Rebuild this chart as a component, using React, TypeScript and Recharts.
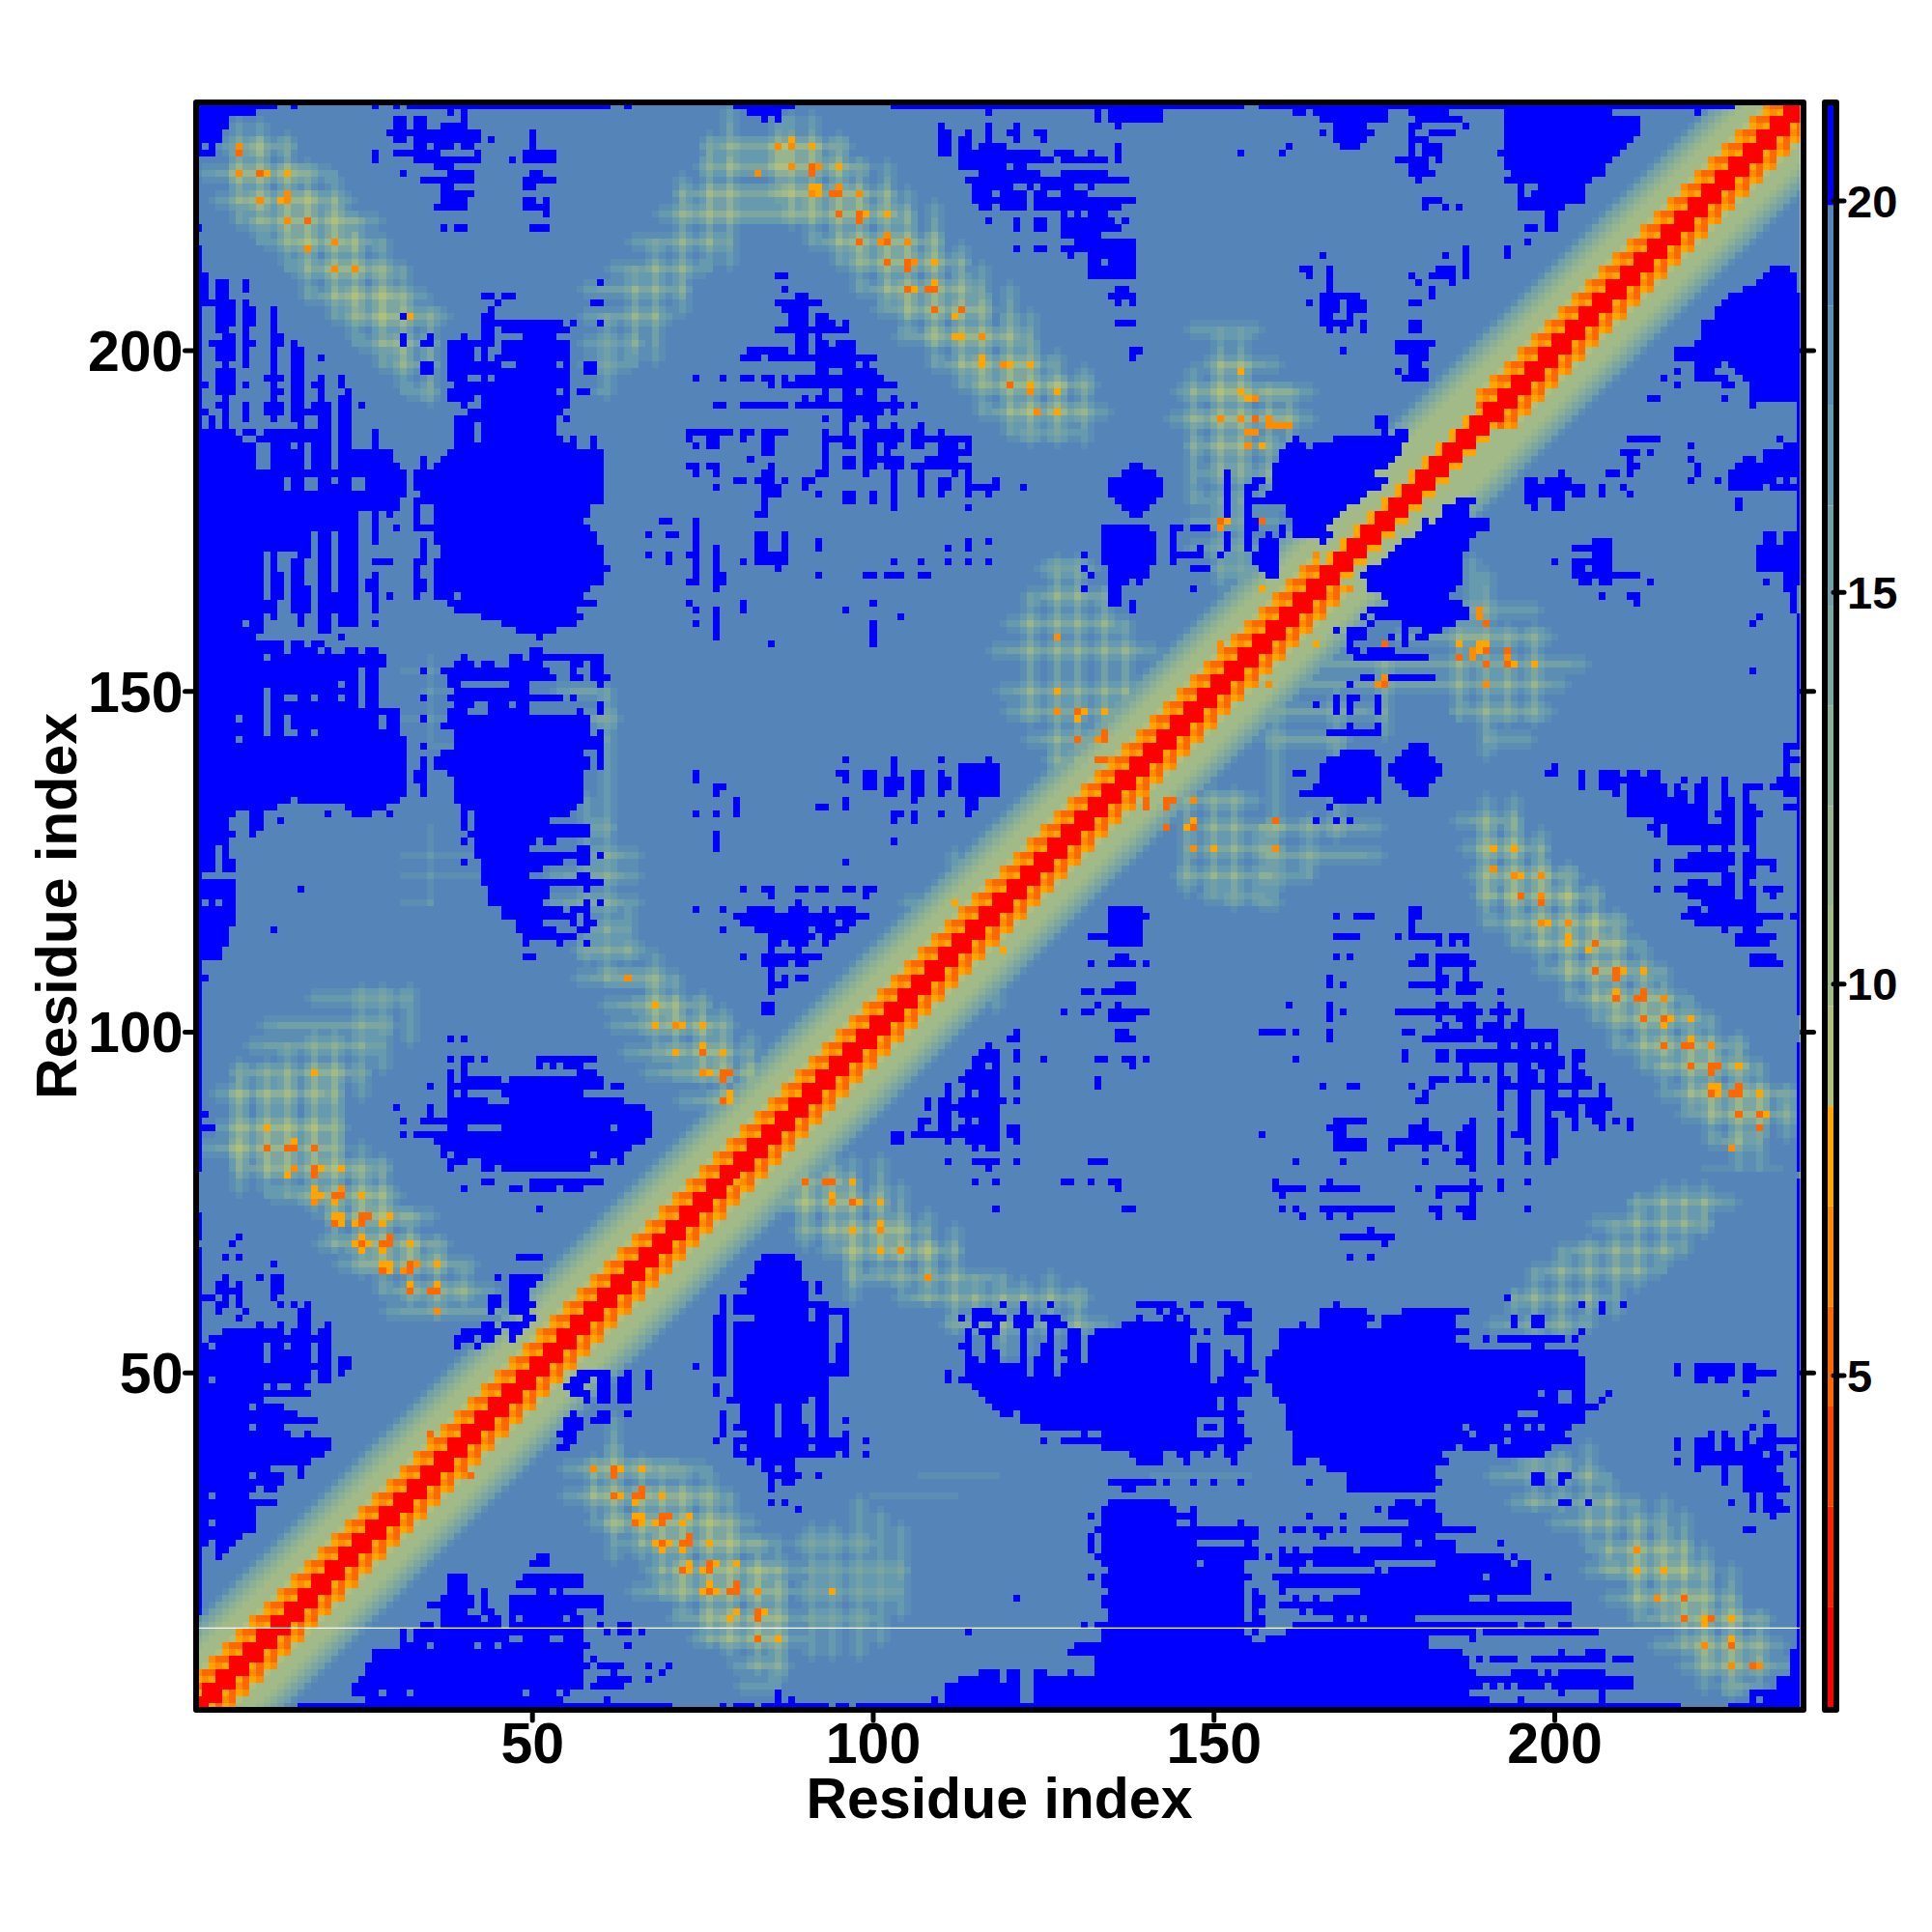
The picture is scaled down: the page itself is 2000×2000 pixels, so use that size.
import React from 'react'
import { ScatterChart, Scatter, XAxis, YAxis, BarChart, Bar } from 'recharts'

const RESIDUES = 236
const axisTicks = [50, 100, 150, 200]
const colorTicks = [5, 10, 15, 20]
const whiteLine = [{ x: 1, y: 12.57 }, { x: 236, y: 12.57 }]

// red -> orange -> sage -> steel -> blue, one colour per colour bar step
const levelColors = [
  '#FF0000', '#FF2200', '#FF4500', '#FF6800', '#FF8C00', '#FFA500', '#B0C07C', '#A2BA88',
  '#98B68E', '#8BAF97', '#7EA6A0', '#71A0A8', '#659AAF', '#5C8EB4', '#5585B8', '#0000FF',
]
const colorSteps = [2.05, 1.278, 1.278, 1.278, 1.278, 1.278, 1.278, 1.278, 1.278, 1.278, 1.278, 1.278, 1.278, 1.278, 1.278, 1.278]

// level of the band around the diagonal, by distance from it, for alternate residues
const diagEven = [0, 0, 0, 4, 3, 6, 7, 7, 7, 8, 9, 10, 11, 13]
const diagOdd = [0, 0, 5, 3, 5, 4, 7, 7, 7, 8, 9, 10, 11, 13]
const narrowEven = [0, 0, 0, 7, 7, 7, 7, 7, 7, 8, 9, 10, 11, 13]
const narrowOdd = [0, 0, 5, 5, 7, 7, 7, 7, 7, 8, 9, 10, 11, 13]
const narrowSpan = [166, 188]

// far contacts, "row:residues"
const blueRows = `
236:1-12 15 27 30 32-61 64 80-88 103-104 105-154 157-226
235:1-9 38 40 82-86 117 133 135-142 162-163 165-175 179-184 193-208 221
234:1-5 30-31 33-34 40 84 86 133 135-141 142 166-175 180-186 193-212
233:1-5 30-31 33-34 37-40 110 117 121 136 168-172 179-180 187 193-212
232:1-4 29-32 33-42 50 110-111 114 117 120-121 124-125 166 168-173 179 182-185 193-212
231:1-4 30-31 33-42 44 50 110-111 113-114 117 121 125 168-172 179-181 193-211
230:1 3 33-34 36-38 40-41 50 110-111 113-114 116-119 136 161 169-171 179 181-183 193-210
229:1-3 27 30-36 42 49-53 110-111 113-124 127-129 132 136 154 160 179 181-183 192-209
228:27 33-42 47 49-53 113-126 128-134 136 177-181 183 193-208
227:36-38 113-115 116-119 121-122 179-181 193-207
226:31 38-41 50-51 116-124 128-134 179-182 194-207
225:34-41 49-53 114-137 180 193-205
224:37-38 49-50 115-120 123 125-127 128-129 132 195 198-204
223:37-41 115-117 119-122 124-125 128-131 195 197-204
222:37-40 49-50 52 115-118 119-122 124-138 181-183 195-204
221:36-40 49-52 116-117 119-122 124-127 128-136 181 184 186 195-201
220:52 128 130 132-134 199-200
219:117 121 124-125 128-135 137 199-200
218:1 37 39-40 50-52 121 124-125 128-136 196-197 199-200
217:128-133
216:130-138 196
215:1 121 124-125 128-138 187 193
214:1 129 132-138 166 184 187 193
213:1 132-133 135-138 187
212:1 132-138 163-164 167 183-185 187 232-234
211:1-2 86-87 132-138 164 167 179 182-185 187 231-235
210:1-2 4-5 8 60 167 180 185 230-235
209:1-2 4-5 8 87 136-137 167 182 228-235
208:1-2 4-5 43-44 46-47 89-90 135-138 166-171 182 226-236
207:1-6 8 45 59-60 86-92 136 138 164 166-168 170-172 179-180 225-236
206:1 4-6 8-9 12 44 87-90 166-168 170-172 224-236
205:1 4-6 8-9 12 31 43-44 88-90 92-93 166-167 170 224-236
204:1 4-6 8-9 12 43-44 45-54 56 60 88-90 92-94 96 136-138 166-170 172 179-180 222-236
203:1 4-5 8 12 43-44 46-54 55 86-96 167 169 172 179-180 222-236
202:1 5-6 8 12-13 31 35 40 43-44 49-53 89-90 92 222-236
201:1 3-6 8-9 12-13 15 31 34-35 38-44 46-54 55 89-90 92-93 95-97 177-182 221-236
200:1 4-6 8 12 15-16 38-41 43 46-55 82-87 89-90 92-97 138-139 169 177-181 218-236
199:1 4-6 8 12 15-16 19 38-41 43 45-55 81-83 85-100 138 179-181 218-236
198:1 5 8 12 15-16 34-35 38-45 48-53 55 58-59 92-95 96-97 99 179-180 221-224 226-236
197:1 4-6 12 15-16 34-35 38-55 58-59 92-93 96-100 177 179-181 218 221-223 227-236
196:1 4-6 11-13 15-16 19 22 38-40 43 45-54 55 74 78 81-82 84-85 87 89-101 178-181 216 221-225 228-236
195:1-2 4-6 8 12 15-16 18-19 22 39-55 85 87-103 218 225-226 229-236
194:1 4-6 12-13 15-16 19 23 38-53 55 57-58 93 96-97 99-100 229-236
193:1 5 12 15-16 19 22-23 38-41 43-55 90 92-93 96-100 103 214-215 225 229-236
192:1 4-5 8 11-13 15-16 18-20 22-23 25 40 43-55 77-78 81-87 89-104 106 229 236
191:1-2 5 8 11-13 15-20 22-23 41-54 96-101 103 236
190:1 3 5 8 12 15-16 19-20 22-23 39-41 42-53 55 93 96-97 99-100 174-175 236
189:1 3 5 16 19-20 22-23 39-40 41 43-53 96 100 103 107 174-175 236
188:1-6 8-9 11-20 22-23 27 39-41 43-53 73-79 81-82 84-87 93 96 99-104 106-107 110 175 177-178 236
187:1-7 10-20 22-23 27 39-41 43-54 56 59 73 76-77 81 84-85 93-97 99-104 106-112 113-114 162 168-178 211-215 233 236
186:1-9 12-20 22-23 27 39-55 56 59 74 76-77 84-85 93 96-97 99-100 102-103 106-107 110-112 114 161-163 165-177 220 234-236
185:1-9 12-20 22-29 38-60 84-85 93 99-100 102 110-112 113-114 160-177 210-212 214 231-236
184:1-9 12-20 22-29 34 37-60 82 93 96-97 99-104 108-112 160-176 211 220 228-229 231-236
183:1-9 12-20 22-30 34 36-60 73-74 76-77 85 93 96-97 99-100 102-104 106-112 113-114 138-139 159-175 211-212 221 227-236
182:1-31 33-60 74 77 84-85 92-93 99 103 107 112 114 137-141 152 159-173 201 208-209 211 221 226-236
181:1-31 33-60 80-81 83-85 87 90-91 103 107 110-111 114 118 135-142 152 156-157 159-175 196-197 199-202 220 224 226-232 234 236
180:1-31 33-60 77 84-86 90 103 107 110-111 114-118 122 135-142 152 155-156 159-174 196-204 207 210 226-230 232-236
179:1-31 33-60 84-86 92 96-97 100 103 107 110 114 117 135-142 152 155 158-172 196-201 203-204 207 211 236
178:1-30 33-60 84 96-97 100 103 136-141 152 155-159 158-171 186-188 196-197 200-201 227 236
177:1-30 33 36-58 84 103 114 137-140 152 155 161-169 184-187 197 200-201 227 236
176:1-24 27 29 33 36-58 83-84 138-139 152 155 161-168 184-187 236
175:1-24 27 33 36-57 69-70 74 155-156 162-167 181 183-190 236
174:1-24 27 30 33-35 36-58 74 134-140 144-145 147-149 155-156 160 162-166 181-190 236
173:1-17 19-20 22-24 27 36-59 67 70-71 74 83-84 87 134-141 144 152 155 158 160 162-167 180-188 231-232 234-236
172:1-17 19-20 22-24 27 34 36-59 74 83-84 87 92 114 117 134-141 144 152 155 157-159 166 178-187 206-208 231-232 234-236
171:1-17 19-20 22-24 34 37-60 74 77 83-84 87 92 111 114 134-141 144 148 152 155 157-159 177-187 203-208 230-233 234-236
170:1-10 12 16-17 19-20 22-24 34 37-60 67 70 73-74 77 83-87 131 134-141 144-146 147-148 151 156-159 176-186 206-208 230-233 234-236
169:1-10 12 15-16 19-20 22-24 27-28 29 33-34 36-60 70 74 77 81 83-87 103 107 111 114 117 134-141 144 156-159 175-186 200 203-206 207-208 230-233 234-236
168:1-10 12 15-16 19-20 22-24 33 36-61 74 77 86 131 135-140 147-149 157-159 173-186 203-204 206 207-208 230-233 234-236
167:1-10 12-13 15-16 19-20 22-24 27 33 36-60 74 77-78 92 99-100 102-104 107-108 132 135-140 158-159 172-186 203-212 234-236
166:1-10 12-13 15-16 19-20 22-24 26-27 33-34 36-60 73-74 77-78 135-137 139 173-186 204-205 207-208 214 231 234-236
165:1-10 12-13 15-17 19-20 22-24 26-27 33-34 36-58 77 131 135-136 147 173-185 234-235
164:1-10 12-13 15-17 19-24 27 29 33 36-38 40-57 135-136 175-184 207 211-212 235
163:1-12 15-17 19-24 27 38-59 73 81 100 135-136 138 176-186 212 235
162:1-12 15-17 19-24 27 39-56 74 77 81 96 138 173-187 235
161:1-10 12 16 19-20 22-24 43-57 77 104 172 174-187 230 236
160:1-7 9-10 16 19-20 22-24 27 74 77 46-56 100 173 178-185 229 236
159:1-10 19-20 48-53 77 100 168 170-172 178 181-183 236
158:1-9 22 51 77 100 170-172 176 178 180-181 236
157:1-13 15-16 18-19 85 100 170 178 236
156:1-13 15-18 20 23-24 26-27 50-51 170-171 173-176 236
155:1-10 12-28 40 47-48 50-60 171-181 236
154:1-28 39-41 43-44 47-51 56-57 59-60 236
153:1-27 34 37-52 56 59-60 229 236
152:1-27 38-53 56-57 59-61 172-173 176-182 236
151:1-27 38-39 47-49 60 170 236
150:1-27 39-49 236
149:1-27 34 38-54 56 168 170-171 174 236
148:1-27 39-41 44-49 60 165 168 170 174 236
147:1-30 38-40 44-49 57 60 168 170 174 236
146:1-30 34 38-58 236
145:1-30 37-58 170 174 236
144:1-30 39-58 60 167-174 236
143:1-31 39-60 236
142:1-31 34 39-60 179-181 234-236
141:1-31 37-57 60 169-173 178-181 234
140:1-31 34 36-58 60 96 103 110 117 167-174 177-182 234-236
139:1-31 34 36-58 60 103 113-118 166-174 176-183 200 234
138:1-31 33-34 38-57 74 95-96 99-100 103 106-107 110 113-118 162-163 166-174 176-183 199-200 204 207-209 211-212 214-215 234
137:1-31 33-34 39-57 74 96 99-100 102-104 106-107 110-111 113-118 166-174 177-182 204 207-210 211-215 219 222 225 233-236
136:1-31 34 39-57 77-78 99-100 102-104 106-107 110-111 113-118 165-174 178-181 204 207-209 211-216 218 221-222 225 228-230 232-236
135:1-31 34 39-57 77 102-103 106-107 110 113-118 163-174 179-181 209 211-216 218-219 221-222 225 228 234-236
134:1-14 16-30 39-57 80 96 106 114-115 168-172 174 211-212 213-219 221-222 225-226 228 236
133:1-12 23-28 40-56 80 92-93 96 114-115 167 211-220 221-222 225-226 228-229 234-236
132:1-6 9-10 20 24-26 29 40 42-55 74 77 80 103-104 106 110 114 211-222 224 225-226 228-230 236
131:1-5 9-10 13 40 42-52 103 106 165 168 170 215-220 221-222 225-226 228-229 236
130:1-5 9-10 40 42-58 214-215 217-220 221-224 225-226 228-229 236
129:1-6 9 41 42-58 77 215 217-226 228-229 236
128:1-5 40 42-50 52-53 77 103 217-226 228-229 236
127:1-3 5 42-49 57-58 77 222 225 229 236
126:1-3 5 42-57 57-58 60 220-226 228-229 236
125:1-3 5-6 40 43-54 57-58 96 215 218-219 220-226 228-230 231-232 236
124:1-3 5-6 43-51 215 218-219 220-225 228-229 232 236
123:1 43-49 57-58 225-226 228-229 236
122:1-6 43-60 220-222 225-226 228 236
121:1-6 16 44-52 58 81 84-85 89-90 92-93 96-97 99-100 215 218-219 220-226 228-229 231-233 236
120:1-6 44-52 85 99 220-226 228-229 232 236
119:1 3 5-6 44-51 58 60 89 222-229 236
118:1-6 46-54 56-58 74 78 82-85 88-90 93 95-97 135-139 179-180 220-221 223-229 236
117:1-6 46-55 56 58 80-99 135-140 168 171-173 179-180 219 220-223 224-233 235-236
116:1-6 48-51 56 58-59 81-86 87-91 92 93-94 96-97 135-139 179 221-230 236
115:1-5 12 48-53 57-58 78 83-90 92-96 135-139 179 225 228-229 236
114:1-5 49-56 85-91 93-94 132-139 168-171 177 179-183 185-187 227-232 236
113:1-5 49 54 58 85-86 88-90 93 135-139 183 185 187 227-231 236
112:1-4 85 89 236
111:1-4 49-50 81 84-92 136-137 168 170 180-181 183-187 229-232 236
110:1 84-87 89-90 132 135-138 140 179-181 183-188 229-233 236
109:1 85 183 187 236
108:1-2 85 87 89-90 167 183-184 187 236
107:1 85-87 136-138 167 169 179-184 186-189 236
106:1 85 131-132 134-138 183 186-188 192 236
105:1 236
104:1 84-85 133 136 161 167 183-184 187-188 192 236
103:1 84-85 128 131-132 135-140 167 169 177-189 191-193 195 236
102:1 135-138 167 183 186-188 192 195
101:1 184 187-188 190-192 194-195
100:1 136-137 121 158-160 162 167 178-179 183-200 157-159
99:1 38 40 120-121 136-138 167 181-188 190-200
98:1 117 192-193 195-196 198 200 236
97:1 116-118 121 178 183-184 186-200 203-204 236
96:1 38 40-41 43 51-59 115-118 121 125 133-134 137-138 140 162 178 183-184 186-201 203-204 236
95:1 40 51 53 55-57 115-116 118 138 187 192 195-196 198-201 203 236
94:1 38 40 57-59 114-116 117-118 187 192 195-197 199-200 203-204 236
93:1 38 40-45 47-60 113-118 121 133 182-184 186-188 190 192-193 195-197 199-200 203-205 236
92:1 35 38-46 47-60 62-63 111 114-115 116-118 121 133 166 170-171 179 182 192-205 207 236
91:1 38 40 46-57 111 114 116-118 181 192 195-196 199-200 203 207 236
90:1 38-43 47-63 108 110-111 113-119 121 180-181 192 195-196 199-208 236
89:1 30 35 38-66 108 110-118 192 195-196 199-203 205-208 236
88:1-2 35 38-67 110-111 113-118 195-196 199 202-203 205-207 236
87:1 31 34-67 107-108 110-111 114 116-118 168-172 181 188 192 195-196 199-200 203 206-207 209 211 236
86:1-3 38-40 46-61 63-67 107 110-111 113-118 120-121 167-169 179-181 187-188 192 195-196 199-200 203 207 211 236
85:1 31 33-67 103-104 106-118 120-121 157 168-169 179-183 186-188 192 194-196 199-200 236
84:1 36-66 103-104 111 114-118 121 168-172 176-183 186-188 192 196 199-200 236
83:1 37-64 115 117-118 168-172 176 181 184 186-188 192 199-200 236
82:1 37 39-58 60-63 187-188 192 196 199-200 236
81:1 38-40 43-58 59-61 63 111 115-118 121 132-134 162 169 181 186-188 192 196 199 236
80:1 38 43-44 46-58 117 188 236
78:43-44 50-60 115 118 128-129 132 135-136 159 167 188 192 196 236
77:40 47-48 50-53 55-57 136 159-163 166-171 180 183-185 186-189 192 236
76:160 183 188 236
75:188 236
74:51 118 137-138 160 162 166-176 182-183 186 187-188 196 236
73:1 163 167 170 183 187-188 236
72:1 236
71:1 173 236
70:1 7 169-176 236
69:6 175 236
68:1 236
67:1 5 7 48-51 84-88 170 173 236
66:1 12 83-89 236
65:1 83-89 236
64:1 5 10 12-13 45 47-51 82-89 236
63:1 4-5 7 12-13 47-50 81-90 92 236
62:1 4-7 12-13 47-49 82-90 92 236
61:1-3 5 7 12 44-45 47-49 78 80-81 82-90 193 236
60:1 4-5 7 13 15 17 44-45 47-50 78 80-91 92-93 119 122 126 139-142 143-144 147-148 151-154 168 204 207 210 236
59:1 4 8 16-17 44 47-49 78 80-90 92-96 115-117 122 142 144-145 153-155 166-172 178-187 207 236
58:1 7 16-17 49-50 77-78 83-90 92-93 96 113 115-119 121-123 125-127 139 143-144 146 152-153 154-155 166-173 175-185 194 197-198 236
57:1 10 13 16-17 20 46-49 43-44 77-78 80-93 96 115 118 121-123 126-128 137-146 152-153 163 166-172 175-185 194 197-198 236
56:1 5-13 15-17 19-20 40-42 43-45 47-48 77-78 80-93 96 114 116-118 122 126 129-130 133-147 149 152-155 160-185 186-187 204 236
55:1 3-20 39-41 43-44 47 77-78 80-93 96 114 117 122 126 129-130 132-146 155 160-185 190 192-201 203 236
54:1-2 4-10 12-13 15-17 19-20 39 42 77-78 80-93 95-96 113-114 117 122 125-126 129-130 132-146 148-149 155 160-187 197-198 236
53:1-10 12-17 19-20 77-78 80-93 95-96 114 117-118 122 125-126 128 129-130 132-146 148-149 152 155 159-203 236
52:1-10 12-17 19-20 22-23 77-78 80-93 95-96 114-115 117-118 122 124-126 129-130 132-146 148-149 152-153 155 158-204 236
51:1-18 19-20 22-23 74 77-78 80-96 114-119 120-122 124-126 128-147 148-149 152-155 158-204 218 221-226 228-229 236
50:1-17 19-20 22 57-59 60-61 64 67 77-78 80-96 111 114-122 124-126 128-147 148-149 152-156 158-204 218 221-226 228-232 236
49:1-2 4-17 19-20 56-58 60-61 63-64 67 80-93 111 113-149 151-154 158-204 221-222 224-225 228-229 236
48:1-10 12 15-16 55-57 60-61 63-64 67 77 80-93 115-155 159-197 198-202 203-204 236
47:1-17 56-58 60-61 63-64 77 80-93 116-155 159-197 199-200 203-204 208 228 236
46:1-10 58 60-61 63-64 79 80-90 92-93 117-150 152-153 160-198 199-200 203-204 207 236
45:1-8 10-13 81-85 87-89 92-93 118-150 152-153 161-199 200-204 205-206 236
44:1-15 60-61 64 56 78 81-85 87-89 92-93 119-120 122-154 161-194 198-204 231 236
43:1-18 55-57 59-61 78 81-85 87-89 92-93 96 122-147 152-153 161-204 236
42:1-8 10-13 55-57 78 80-85 87-90 92-93 125-147 149-150 152-154 161 162-186 188-192 194-195 197 199-202 229 231-232 236
41:1-14 17 54-56 78 82-85 87-90 92-93 96 131 134-147 152-154 162-187 189-201 223 225 228 231-232 236
40:1-20 55-56 77 80-96 99 125 128-155 162-192 194-202 218 221-223 225-226 228 230-235 236
39:1-20 54-55 80 82-90 92 93-96 134-148 149-150 152-154 162-185 187-190 192-199 218 221-223 225-226 228-232 236
38:1-19 80-94 96 99 138-142 145-146 149 152-153 162-183 192-198 221-229 230 232-233 235-236
37:1-17 82 84-86 87-88 139-142 146 153 162-163 166-184 218 221-233 236
36:1-11 16 84-85 87-88 167-182 221 225 228-232 236
35:1-8 10-13 16 85-86 87-89 92 170-182 197-198 201-202 225 228-233 236
34:1-13 85 87-88 135-141 143 147 150 154 164 170-183 197-198 201 225 228-233 236
33:1-9 11-12 85 137-138 170-182 228-234 236
32:1-2 4-8 229 231-232 236
31:1-12 85 87 135-143 177-179 181-182 201-202 205 226 229 231-233 236
30:1-9 89 134-144 147 174 176-182 229 231-234 236
29:1-9 132 134-145 146-147 164 169 176-183 232 236
28:1-2 4-9 134-144 147 154 179-183 236
27:1-9 133 134-156 160 162-163 165-167 169 172-188 228-229 236
26:1-7 132 134-155 156 166 178-182 236
25:1-2 4-6 132 134-147 155 178-179 181-185 192 236
24:1 4-5 132 134-155 156 160 162 165-168 169-170 172-185 236
23:1 4 51-52 133-156 158 160-192 194 236
22:1 50-52 134-147 149-154 160-163 165-173 183-193 195-196 236
21:1 135-154 162 174 176-196 236
20:1 38-40 49-57 132 134-155 159 159-189 191-196 199 236
19:1 38-40 48-57 134-154 160-196 236
18:1 38-40 43 51-52 54 135-154 156 160 172-196 236
17:1 37-41 43 47-60 121 134-154 156-157 162 165 168-187 191 236
16:1 35-41 43 47-60 134-154 156-157 160-202 236
15:1 37-40 43-44 47-56 60 135-154 156 163 165-202 236
14:37-42 44-45 47 49-54 56-57 135-154 156-157 168-169 171 173-179 236
13:34-35 37-45 47-57 60 63-64 131 133-157 162-194 196 197-198 201-202 236
12:31 33-46 47-57 61 63-64 66 114 134-154 156 161-188 190-192 193-206 236
11:31 33-46 49-52 55-57 134-155 158-181 188 236
10:31-58 64 130-181 236
9:27-57 129-186 201 205-207 235-236
8:27-57 59 133-187 189 191-194 197-207 209-211 235-236
7:26-57 58 60-63 67 70 133-187 235-236
6:26-57 62 69 116-118 120-121 124-125 129 133-188 194-197 199 201-207 235-236
5:25-57 60-64 67 113-118 120-121 124-189 190-211 233-236
4:24-57 59-63 111-119 120-121 124-189 191 193 195-198 200-204 205-211 233-236
3:24-55 86 111-121 124-187 201 207 229-236
2:26-54 61 86 88 109 111-121 124-190 195 207 229 231-236
1:16-70 78 80-82 84-93 95-96 98-217 218 226-236
`

// gaps inside the large far-contact blobs
const steelHoles = `
147:11
148:11 25 47
149:11 14-15 18 22 25
150:11 25
151:22 25
152:25
153:25
146:7 11 14 28
145:11 14 28
144:11 14-15 18
143:7
181:14 17-18 21 24-25
180:14 17-18 24-25
186:15 17
185:17
184:17
183:17
179:33
170:65
164:39
3:28 32 49 54
10:35 42 45
11:48
`

// plaid stripes of the strand pairings: y, from x, to x, optional strength
const stripeRows: number[][] = [
  [230, 4, 15], [226, 1, 21], [222, 3, 24], [219, 6, 28], [216, 10, 29], [212, 14, 32], [208, 16, 35], [205, 20, 38],
  [201, 24, 36], [198, 27, 36], [194, 31, 36, 2],
  [230, 75, 97], [227, 74, 100], [223, 71, 103], [220, 68, 106], [216, 64, 79, 3], [216, 90, 110], [212, 61, 76, 3], [213, 94, 114],
  [209, 57, 73, 3], [209, 97, 116], [205, 57, 71, 3], [206, 100, 118], [201, 57, 66, 2], [202, 103, 123], [198, 57, 65, 2], [198, 108, 127],
  [194, 57, 60, 1], [195, 112, 133], [191, 115, 135], [188, 119, 130, 2],
  [105, 17, 32, 2], [101, 10, 30, 3], [98, 8, 28, 3], [94, 6, 26, 3], [91, 3, 22, 3], [86, 3, 23], [83, 1, 23], [80, 6, 29], [76, 11, 31],
  [73, 19, 36], [69, 18, 38], [66, 21, 42], [62, 27, 45], [59, 28, 48, 3],
  [150, 53, 62, 3], [146, 56, 63, 3], [143, 57, 61, 2], [130, 58, 62, 3], [126, 58, 66, 3], [123, 52, 66, 3], [119, 52, 66, 3], [115, 58, 64, 3],
  [112, 56, 67, 3], [108, 56, 72], [104, 60, 76], [101, 61, 80], [97, 63, 82], [94, 66, 84], [90, 71, 86],
  [126, 31, 42, 1], [123, 31, 42, 1], [119, 31, 35, 1], [153, 31, 36, 1], [150, 34, 41, 1], [146, 30, 40, 1], [142, 34, 38, 1],
  [78, 83, 98], [75, 80, 102], [71, 88, 108], [68, 92, 113], [64, 96, 120, 3], [61, 103, 132, 3], [57, 110, 135, 3],
  [36, 54, 76], [32, 54, 80], [28, 58, 83], [25, 63, 87], [21, 66, 90], [18, 64, 88], [14, 70, 90], [11, 73, 90],
  [7, 79, 88, 3], [4, 80, 86, 2], [25, 88, 100, 2], [21, 90, 105, 2], [18, 88, 104, 2], [14, 90, 100, 2],
  [35, 107, 118, 1], [32, 100, 112, 1], [35, 141, 155, 1],
  [168, 124, 133, 2], [164, 122, 135, 3], [160, 119, 138, 3], [156, 117, 142, 3], [150, 118, 140, 3], [147, 119, 141, 3], [143, 122, 142, 3],
  [140, 125, 142, 3], [137, 126, 132, 2],
  [203, 146, 157, 2], [198, 148, 160, 3], [194, 144, 165], [190, 143, 165], [186, 146, 160, 3], [182, 148, 162, 2], [178, 146, 170, 2],
  [175, 146, 160, 2], [171, 146, 165, 2], [168, 150, 160, 2],
  [158, 176, 200, 3], [162, 178, 198, 2], [154, 157, 205, 3], [151, 157, 202, 3], [147, 157, 175, 3], [147, 185, 200, 3], [143, 157, 170, 3],
  [143, 190, 197, 2], [130, 157, 175, 3], [126, 157, 175, 3], [123, 157, 165, 2], [119, 157, 160, 2],
  [134, 143, 157, 3], [130, 146, 160, 3], [127, 146, 160, 3], [123, 144, 158, 3], [120, 148, 157, 2],
  [119, 104, 118, 2], [112, 117, 125, 2],
  [131, 185, 195, 3], [127, 186, 199], [123, 187, 204], [120, 188, 207], [116, 190, 211], [113, 193, 213], [109, 197, 216],
  [105, 201, 220], [102, 205, 224], [98, 208, 228], [95, 212, 231], [91, 215, 236], [88, 218, 236], [84, 222, 230, 3], [80, 222, 233, 1],
  [75, 211, 227, 3], [72, 205, 223, 3], [68, 200, 220, 3], [65, 196, 216, 3], [61, 193, 208, 3], [57, 190, 205, 3],
  [37, 194, 203, 2], [35, 190, 208, 3], [31, 193, 212, 3], [28, 199, 216, 3], [24, 205, 220], [21, 204, 224], [17, 207, 226],
  [14, 211, 232], [10, 214, 234], [7, 218, 235], [4, 224, 231, 3],
]

// same thing for the vertical stripes: x, from y, to y, optional strength
const stripeCols: number[][] = [
  [7, 219, 234], [10, 216, 234], [14, 212, 232], [17, 208, 228], [21, 205, 226], [24, 201, 220], [28, 198, 216], [31, 194, 212], [35, 192, 207, 3],
  [61, 193, 205, 2], [65, 198, 212, 3], [68, 198, 216, 3], [72, 205, 226, 3], [76, 212, 232, 3], [79, 212, 236, 3], [86, 222, 235], [88, 218, 235],
  [91, 216, 235], [95, 213, 232], [98, 209, 228], [102, 206, 228], [105, 202, 224], [109, 198, 222], [113, 195, 216], [116, 191, 213],
  [120, 188, 210], [123, 186, 206], [127, 186, 200], [131, 186, 198, 3],
  [7, 76, 96], [11, 76, 96], [14, 76, 98], [18, 73, 100], [21, 68, 100], [25, 64, 84], [25, 90, 107, 2], [28, 62, 82], [28, 94, 107, 2], [32, 60, 74], [32, 98, 107, 2], [36, 58, 70, 3], [40, 60, 66, 2],
  [35, 119, 130, 1], [35, 143, 155, 1],
  [58, 110, 135, 2], [61, 108, 150, 2], [64, 110, 118, 2], [68, 98, 112], [71, 96, 108], [75, 92, 106], [78, 88, 104], [82, 86, 100],
  [90, 68, 82], [94, 68, 85], [97, 60, 82], [101, 64, 82], [104, 62, 78], [108, 60, 74], [112, 56, 72, 3], [115, 56, 64, 3], [119, 52, 64, 3], [122, 52, 64, 3], [126, 50, 65, 3], [130, 50, 63, 3],
  [59, 29, 38], [62, 22, 44], [66, 22, 38], [69, 18, 36], [72, 14, 36], [76, 10, 36], [79, 8, 32], [83, 6, 26], [86, 4, 24], [91, 8, 28, 2], [94, 8, 28, 2], [98, 8, 32, 2], [101, 10, 30, 2], [104, 14, 28, 2],
  [123, 145, 164, 3], [127, 136, 170, 3], [130, 137, 170, 3], [134, 138, 165, 3], [137, 145, 160, 3],
  [147, 178, 198, 3], [151, 178, 203], [154, 178, 203], [158, 178, 195, 3], [161, 180, 195, 3], [151, 165, 178, 2], [154, 165, 178, 2],
  [159, 120, 150, 2], [164, 123, 132, 2], [168, 128, 150, 2], [175, 143, 155, 3], [186, 146, 162, 3], [190, 140, 168, 3], [193, 145, 160, 3], [197, 145, 160, 3], [188, 155, 170, 2],
  [146, 120, 136, 3], [150, 120, 136, 3], [153, 118, 136, 3], [157, 118, 130, 2], [112, 112, 127, 2], [118, 103, 112, 2],
  [190, 115, 135], [194, 113, 135], [198, 110, 130], [202, 105, 125], [206, 102, 122], [209, 98, 118], [213, 95, 113], [216, 92, 110], [220, 88, 105], [223, 84, 102], [227, 80, 100], [230, 80, 95], [234, 84, 92, 3],
  [222, 70, 78, 3], [219, 68, 78, 3], [216, 65, 78, 3], [212, 62, 76, 3], [209, 58, 72, 3], [205, 56, 70, 3], [201, 55, 68, 3], [197, 55, 65, 3], [194, 58, 62, 2],
  [197, 30, 38, 2], [201, 30, 38, 2], [205, 24, 40, 3], [208, 20, 35, 3], [212, 14, 32], [216, 14, 32], [219, 10, 30], [222, 3, 25], [226, 2, 22], [230, 5, 15, 3],
]

// closest contacts off the diagonal, "level:x,y x,y ..."
const contactDots = `
5:11,226 14,226 13,222 32,205 88,231 91,230 95,227 91,224 92,224 92,223 99,220 102,220 109,213 106,209 109,210 112,205 112,202 113,202 116,199 116,198 120,198 123,198 123,195 127,194 127,191 154,197 154,194 155,193 157,186 152,175 157,165 68,104 68,101 72,101 75,101 75,98 71,97 78,97 76,94 79,91 79,90 18,94 11,86 15,84 19,80 22,80 14,79 18,77 18,76 19,76 21,75 25,76 21,73 22,73 22,72 24,72 28,72 29,73 25,70 24,69 26,69 25,68 28,68 32,69 28,66 29,66 29,65 32,63 36,66 36,63 63,36 66,36 63,32 69,32 65,31 65,29 66,29 66,28 68,28 72,28 73,29 68,25 70,25 69,24 72,24 76,25 73,22 73,21 75,21 77,22 75,18 76,19 77,18 79,14 80,22 80,15 84,15 86,11 94,18 80,78 97,78 94,76 98,75 101,75 101,72 97,71 101,68 127,150 131,147 134,147 130,146 147,131 146,130 150,127 112,119 119,112 165,157 186,157 189,157 190,157 189,156 194,154 197,154 191,127 194,127 195,123 199,116 202,114 202,113 205,112 210,109 213,109 209,106 217,102 216,101 220,102 220,99 227,95 223,92 224,92 224,91 230,91 231,88 212,21 216,21 222,14 226,14 222,13 226,11
4:7,230 7,226 14,223 10,222 14,222 14,219 17,215 21,216 21,212 24,212 86,230 88,230 88,227 92,227 83,226 91,223 95,224 98,223 101,216 102,217 105,216 106,213 116,202 119,198 123,194 124,191 156,193 151,190 154,190 158,190 155,188 156,188 155,186 151,174 159,164 127,158 151,157 64,108 71,101 75,94 15,80 18,75 22,77 31,65 33,66 36,59 59,36 83,18 94,75 101,71 104,68 108,64 127,147 133,143 147,134 147,127 158,189 159,189 160,189 161,189 189,162 189,161 188,156 188,155 193,155 190,151 158,151 174,151 175,152 159,127 191,124 194,123 198,123 198,120 198,116 202,116 216,105 223,98 226,83 212,24 215,17 222,10 226,7 230,7
3:7,229 10,226 17,219 91,227 91,226 94,223 95,223 95,220 98,220 98,219 98,216 102,216 102,213 105,213 105,212 105,209 108,209 109,209 109,206 113,206 120,195 156,190 151,175 157,175 75,97 78,94 79,94 78,93 78,90 11,83 14,83 15,83 18,83 18,80 18,79 21,76 22,76 25,73 26,73 21,72 25,72 25,69 28,69 29,69 29,70 28,65 32,66 32,65 32,62 35,62 36,62 62,36 62,35 62,32 65,32 66,32 66,33 65,28 69,29 70,29 69,28 69,25 72,25 73,25 73,26 72,21 76,22 76,21 76,18 79,18 80,19 80,18 83,15 83,14 83,11 90,78 93,78 94,78 97,75 35,41 41,35 130,147 130,143 134,143 134,144 133,140 134,140 140,134 140,133 143,134 144,134 143,133 143,130 147,130 159,131 190,160 175,157 175,151 186,155 190,156 193,156 190,154 193,154 195,120 198,119 206,113 206,109 209,109 209,108 209,105 212,105 213,105 213,106 213,102 216,102 216,98 219,98 220,98 220,95 223,95 224,95 223,94 223,91 226,91 227,91 227,92 227,88 230,88 230,86 219,17 219,14 223,14 226,10 229,7
`

function runsOf(text: string): number[][] {
  return text.split(' ').filter(Boolean).map((part) => {
    const [a, b] = part.split('-').map(Number)
    return [a, b === undefined ? a : b]
  })
}

// builds the level of every cell, then merges equal neighbours in a row
function buildCells() {
  const size = RESIDUES + 1
  const boost = Array.from({ length: size }, () => new Array(size).fill(0))
  const mask = Array.from({ length: size }, () => new Array(size).fill(false))
  const level = Array.from({ length: size }, () => new Array(size).fill(14))
  const fade = (e: number) => (e < 1 ? 1 : e < 3 ? 2 : e < 5 ? 3 : 4)
  const add = (x: number, y: number, v: number) => {
    if (x >= 1 && x <= RESIDUES && y >= 1 && y <= RESIDUES) boost[y][x] += v
  }
  stripeRows.forEach(([y, a, b, top = 4]) => {
    for (let x = a; x <= b; x++) {
      const s = Math.min(top, fade(Math.min(x - a, b - x)))
      add(x, y, s)
      add(x, y - 1, s >> 1)
      add(x, y + 1, s >> 1)
    }
  })
  stripeCols.forEach(([x, a, b, top = 4]) => {
    for (let y = a; y <= b; y++) {
      const s = Math.min(top, fade(Math.min(y - a, b - y)))
      add(x, y, s)
      add(x - 1, y, s >> 1)
      add(x + 1, y, s >> 1)
    }
  })
  for (let y = 1; y <= RESIDUES; y++) {
    for (let x = 1; x <= RESIDUES; x++) {
      level[y][x] = Math.max(6, 14 - boost[y][x])
      const d = Math.abs(x - y)
      if (d < diagEven.length) {
        const low = Math.min(x, y)
        const narrow = low >= narrowSpan[0] && low <= narrowSpan[1]
        const even = low % 2 === 0
        const table = narrow ? (even ? narrowEven : narrowOdd) : even ? diagEven : diagOdd
        level[y][x] = Math.min(level[y][x], table[d])
      }
    }
  }
  blueRows.trim().split('\n').forEach((line) => {
    const [rows, runs] = line.split(':')
    const y = Number(rows)
    runsOf(runs).forEach(([a, b]) => {
      for (let x = a; x <= b; x++) mask[y][x] = true
    })
  })
  steelHoles.trim().split('\n').forEach((line) => {
    const [rows, runs] = line.split(':')
    const y = Number(rows)
    runsOf(runs).forEach(([a, b]) => {
      for (let x = a; x <= b; x++) mask[y][x] = false
    })
  })
  for (let y = 1; y <= RESIDUES; y++) {
    for (let x = 1; x <= RESIDUES; x++) {
      if (mask[y][x] && level[y][x] > 5) level[y][x] = 15
    }
  }
  contactDots.trim().split('\n').forEach((line) => {
    const [lv, pts] = line.split(':')
    pts.split(' ').forEach((p) => {
      const [x, y] = p.split(',').map(Number)
      level[y][x] = Number(lv)
    })
  })
  const cells: { x: number; y: number; w: number; level: number }[] = []
  for (let y = 1; y <= RESIDUES; y++) {
    let start = 1
    for (let x = 2; x <= RESIDUES + 1; x++) {
      if (x === RESIDUES + 1 || level[y][x] !== level[y][start]) {
        cells.push({ x: start, y, w: x - start, level: level[y][start] })
        start = x
      }
    }
  }
  return cells
}

const cells = buildCells()

const colorRow: Record<string, number | string> = { name: 'scale' }
colorSteps.forEach((v, i) => { colorRow['l' + i] = v })

const PLOT_LEFT = 205.5
const PLOT_TOP = 109
const PLOT_SIZE = 1658
const CELL = PLOT_SIZE / (RESIDUES - 1)

const CellRect = ({ cx, cy, payload }: any) => (
  <rect
    x={cx - CELL / 2}
    y={cy - CELL / 2}
    width={payload.w * CELL}
    height={CELL}
    fill={levelColors[payload.level]}
    shapeRendering="crispEdges"
  />
)

const tickStyle = { fontFamily: 'Liberation Sans', fontWeight: 700, fontSize: 59, fill: '#000' }
const tickLine = { stroke: '#000', strokeWidth: 5, strokeLinecap: 'round' as const }
const noLabel = () => ''

const frame = (left: number, top: number, width: number, height: number): React.CSSProperties => ({
  position: 'absolute', left, top, width, height, border: '6px solid #000', borderRadius: 3,
  boxSizing: 'border-box', pointerEvents: 'none',
})

export default function App() {
  return (
    <div style={{ position: 'absolute', left: 0, top: 0, width: 2000, height: 2000, background: '#fff' }}>
      <div style={{ position: 'absolute', left: 0, top: 0 }}>
        <ScatterChart
          width={2000}
          height={2000}
          margin={{ left: PLOT_LEFT - 130, right: 2000 - PLOT_LEFT - PLOT_SIZE - 30, top: PLOT_TOP - 30, bottom: 2000 - PLOT_TOP - PLOT_SIZE - 140 }}
        >
          <XAxis xAxisId="b" dataKey="x" type="number" domain={[1, RESIDUES]} allowDataOverflow ticks={axisTicks} height={140}
            axisLine={false} tickLine={tickLine} tickSize={14} tickMargin={2} tick={tickStyle} interval={0}
            label={{ value: 'Residue index', position: 'insideBottom', offset: 25, style: tickStyle }} />
          <XAxis xAxisId="t" orientation="top" type="number" domain={[1, RESIDUES]} allowDataOverflow ticks={axisTicks} height={30}
            axisLine={false} tickLine={tickLine} tickSize={14} tickFormatter={noLabel} interval={0} />
          <YAxis yAxisId="l" dataKey="y" type="number" domain={[1, RESIDUES]} allowDataOverflow ticks={axisTicks} width={130}
            axisLine={false} tickLine={tickLine} tickSize={14} tickMargin={2} tick={tickStyle} interval={0}
            label={{ value: 'Residue index', angle: -90, position: 'insideLeft', offset: -17, style: { ...tickStyle, textAnchor: 'middle' } }} />
          <YAxis yAxisId="r" orientation="right" type="number" domain={[1, RESIDUES]} allowDataOverflow ticks={axisTicks} width={30}
            axisLine={false} tickLine={tickLine} tickSize={14} tickFormatter={noLabel} interval={0} />
          <Scatter xAxisId="b" yAxisId="l" data={cells} shape={CellRect} isAnimationActive={false} />
          <Scatter xAxisId="b" yAxisId="l" data={whiteLine} line={{ stroke: '#fff', strokeWidth: 1.2 }} shape={() => null} isAnimationActive={false} />
        </ScatterChart>
      </div>
      <div style={frame(PLOT_LEFT - 6, PLOT_TOP - 6, PLOT_SIZE + 12, PLOT_SIZE + 12)} />
      <div style={{ position: 'absolute', left: 1892, top: 0 }}>
        <BarChart width={108} height={2000} data={[colorRow]} barCategoryGap={0}
          margin={{ left: 0, right: 0, top: PLOT_TOP, bottom: 2000 - PLOT_TOP - PLOT_SIZE }}>
          <XAxis dataKey="name" hide />
          <YAxis orientation="right" type="number" domain={[0.77, 21.22]} allowDataOverflow ticks={colorTicks} width={102}
            axisLine={false} tickLine={tickLine} tickSize={11} tickMargin={3} interval={0}
            tick={{ ...tickStyle, fontSize: 47 }} />
          {colorSteps.map((_, i) => (
            <Bar key={i} dataKey={'l' + i} stackId="c" fill={levelColors[i]} isAnimationActive={false} />
          ))}
        </BarChart>
      </div>
      <div style={frame(1886, PLOT_TOP - 6, 18, PLOT_SIZE + 12)} />
    </div>
  )
}
